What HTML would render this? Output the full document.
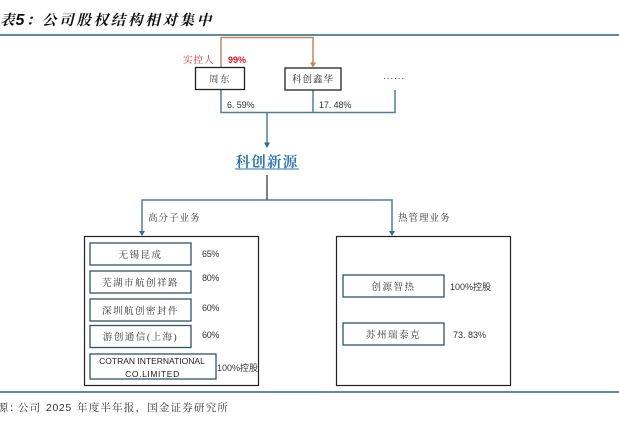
<!DOCTYPE html>
<html><head><meta charset="utf-8">
<style>
html,body{margin:0;padding:0;background:#fff;width:619px;height:421px;overflow:hidden}
svg{display:block}
text{font-family:"Liberation Serif","Noto Serif CJK SC",serif;fill:#333}
.n{font-size:9.5px;letter-spacing:1.5px;text-anchor:middle}
.p{font-family:"Liberation Sans","Noto Sans CJK SC",sans-serif;font-size:9px}
</style></head><body>
<svg width="619" height="421" viewBox="0 0 619 421" xmlns="http://www.w3.org/2000/svg">
<text y="25" font-size="14.5" font-weight="700" font-style="italic" style="fill:#111"><tspan x="-16">图</tspan><tspan x="0">表</tspan><tspan x="15.500" font-family="Liberation Sans" font-size="16" style="font-family:'Liberation Sans',sans-serif">5</tspan><tspan x="26">：</tspan><tspan x="42" letter-spacing="2.700">公司股权结构相对集中</tspan></text>
<rect x="0" y="34" width="619" height="2" fill="#5b8ba5"/>
<rect x="0" y="391" width="619" height="2" fill="#5b8ba5"/>

<g fill="none" stroke="#c08a66" stroke-width="1.500">
<path d="M221 68V37.500H313V63"/>
</g>
<path d="M310 62.500h6l-3 5z" fill="#d97a3a"/>

<g fill="none" stroke="#4f7f9a" stroke-width="1.500">
<path d="M221 90V112.500H395V90"/>
<path d="M313 90V112.500"/>
<path d="M267 112.500V143"/>
<path d="M142 232V200H392V232"/>
</g>
<path d="M264 142.500h6l-3 5.500z" fill="#2a6f92"/>
<path d="M139 231h6l-3 5z" fill="#2a6f92"/>
<path d="M389 231h6l-3 5z" fill="#2a6f92"/>
<path d="M267 175V200" stroke="#555" stroke-width="1.500" fill="none"/>

<g fill="#fff" stroke="#222" stroke-width="1.300">
<rect x="195.500" y="67.500" width="49" height="22"/>
<rect x="285" y="68" width="56" height="22"/>
</g>
<g fill="none" stroke="#222" stroke-width="1.200">
<rect x="84.500" y="236.500" width="174" height="149"/>
<rect x="336.500" y="236.500" width="174" height="149"/>
</g>
<g fill="#fff" stroke="#2f5368" stroke-width="1.300">
<rect x="90" y="243" width="101" height="22"/>
<rect x="90" y="271" width="101" height="22"/>
<rect x="90" y="299" width="101" height="22"/>
<rect x="90" y="325.500" width="101" height="22"/>
<rect x="90" y="354" width="126" height="25"/>
<rect x="343" y="275" width="101" height="22"/>
<rect x="343" y="323" width="101" height="22"/>
</g>

<text x="183" y="63" font-size="9.500" letter-spacing="1" style="fill:#e8303a">实控人</text>
<text x="228" y="63" class="p" font-weight="700" style="fill:#e01020">99%</text>
<text x="220" y="82.500" class="n">周东</text>
<text x="313" y="82.500" class="n" style="letter-spacing:1px">科创鑫华</text>
<text x="383" y="81" class="p" style="font-size:9px;letter-spacing:.65px">······</text>
<text x="227" y="108" class="p" style="letter-spacing:-.1px">6. 59%</text>
<text x="319" y="108" class="p" style="letter-spacing:-.1px">17. 48%</text>

<text x="267" y="167" font-size="14.500" font-weight="700" text-anchor="middle" letter-spacing="1.200" style="fill:#2e75b6">科创新源</text>
<rect x="235" y="168.500" width="64" height="1" fill="#2e75b6"/>

<text x="148" y="221" font-size="9.500" letter-spacing="1">高分子业务</text>
<text x="398" y="221" font-size="9.500" letter-spacing="1">热管理业务</text>

<text x="140.500" y="258" class="n">无锡昆成</text>
<text x="140.500" y="286" class="n">芜湖市航创祥路</text>
<text x="140.500" y="314" class="n">深圳航创密封件</text>
<text x="140.500" y="340" class="n">游创通信(上海)</text>
<text x="152" y="364" class="p" text-anchor="middle" style="font-size:8.500px;letter-spacing:0;fill:#222">COTRAN INTERNATIONAL</text>
<text x="152.500" y="377" class="p" text-anchor="middle" style="font-size:8.500px;letter-spacing:.6px;fill:#222">CO.LIMITED</text>
<text x="393.500" y="290" class="n">创源智热</text>
<text x="393.500" y="338" class="n">苏州瑞泰克</text>

<text x="202" y="257" class="p" style="letter-spacing:-.3px">65%</text>
<text x="202" y="281" class="p" style="letter-spacing:-.3px">80%</text>
<text x="202" y="311" class="p" style="letter-spacing:-.3px">60%</text>
<text x="202" y="338" class="p" style="letter-spacing:-.3px">60%</text>
<text x="217" y="371" class="p">100%控股</text>
<text x="450" y="290" class="p">100%控股</text>
<text x="453" y="338" class="p">73. 83%</text>

<text y="411" font-size="10.500" style="fill:#333"><tspan x="-14" letter-spacing="1.150">来源：</tspan><tspan x="18" letter-spacing="1.150">公司</tspan><tspan x="46" letter-spacing=".6" style="font-family:'Liberation Sans',sans-serif">2025</tspan><tspan x="77" letter-spacing="1.200">年度半年报，国金证券研究所</tspan></text>
</svg>
</body></html>
